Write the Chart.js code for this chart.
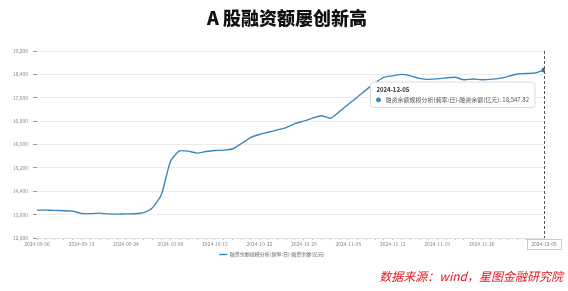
<!DOCTYPE html>
<html>
<head>
<meta charset="utf-8">
<script src="https://cdn.jsdelivr.net/npm/chart.js@4.4.1/dist/chart.umd.min.js"></script>
<style>
  html, body { margin: 0; padding: 0; background: #fff; }
  #wrap { position: relative; width: 568px; height: 291px; overflow: hidden; }
  #marginChart { position: absolute; left: 0; top: 0; }
  #title { position: absolute; left: 0; top: 4px; width: 574px; text-align: center;
           font: 900 18px "Noto Sans CJK SC", sans-serif; color: #111; }
  #source { position: absolute; right: 5px; top: 267px;
            font: italic 12px "Noto Sans CJK SC", sans-serif; color: #e8141c; }
</style>
</head>
<body>
<div id="wrap">
  <canvas id="marginChart" width="568" height="291"></canvas>
  <div id="title">A 股融资额屡创新高</div>
  <div id="source">数据来源：wind，星图金融研究院</div>
</div>
<script>
// trading days, 2024-09-06 .. 2024-12-05
const dates = [
  '2024-09-06', '2024-09-09', '2024-09-10', '2024-09-11', '2024-09-12', '2024-09-13',
  '2024-09-18', '2024-09-19', '2024-09-20', '2024-09-23', '2024-09-24', '2024-09-25',
  '2024-09-26', '2024-09-27', '2024-09-30', '2024-10-08', '2024-10-09', '2024-10-10',
  '2024-10-11', '2024-10-14', '2024-10-15', '2024-10-16', '2024-10-17', '2024-10-18',
  '2024-10-21', '2024-10-22', '2024-10-23', '2024-10-24', '2024-10-25', '2024-10-28',
  '2024-10-29', '2024-10-30', '2024-10-31', '2024-11-01', '2024-11-04', '2024-11-05',
  '2024-11-06', '2024-11-07', '2024-11-08', '2024-11-11', '2024-11-12', '2024-11-13',
  '2024-11-14', '2024-11-15', '2024-11-18', '2024-11-19', '2024-11-20', '2024-11-21',
  '2024-11-22', '2024-11-25', '2024-11-26', '2024-11-27', '2024-11-28', '2024-11-29',
  '2024-12-02', '2024-12-03', '2024-12-04', '2024-12-05'
];

// 融资余额 (亿元)
const balance = [
  13754, 13754, 13745, 13735, 13720, 13640,
  13635, 13650, 13625, 13618, 13625, 13630,
  13670, 13840, 14300, 15420, 15779, 15772,
  15704, 15762, 15796, 15806, 15854, 16034,
  16238, 16341, 16419, 16500, 16580, 16715,
  16800, 16900, 16985, 16900, 17125, 17380,
  17615, 17870, 18110, 18300, 18350, 18400,
  18350, 18265, 18230, 18245, 18280, 18300,
  18215, 18240, 18215, 18230, 18265, 18330,
  18415, 18430, 18450, 18547.82
];

const yTicks = [12800, 13600, 14400, 15200, 16000, 16800, 17600, 18400, 19200];
const seriesName = '融资余额规模分析(频率:日)-融资余额(亿元)';
const lineColor = '#3a87bd';
const lastIdx = balance.length - 1;

Chart.defaults.font.family = '"Noto Sans CJK SC", "Noto Sans", sans-serif';
Chart.defaults.color = '#888';

Chart.Tooltip.positioners.pinned = function (items) {
  if (!items.length) return false;
  const el = items[0].element;
  return { x: el.x - 12, y: el.y + 12 };
};

// dashed crosshair + boxed x label on the active point
const crosshair = {
  id: 'crosshair',
  afterDatasetsDraw(chart) {
    const { ctx, chartArea, scales } = chart;
    const x = scales.x.getPixelForValue(lastIdx);
    ctx.save();
    ctx.strokeStyle = '#555';
    ctx.lineWidth = 1;
    ctx.setLineDash([3, 2]);
    ctx.beginPath();
    ctx.moveTo(Math.round(x) + 0.5, chartArea.top);
    ctx.lineTo(Math.round(x) + 0.5, chartArea.bottom);
    ctx.stroke();
    ctx.setLineDash([]);
    ctx.font = '5px "Noto Sans CJK SC"';
    const txt = dates[lastIdx];
    const w = ctx.measureText(txt).width + 8;
    const bx = Math.min(x - w / 2, chart.width - w - 3);
    const by = chartArea.bottom + 1;
    ctx.fillStyle = '#fff';
    ctx.fillRect(bx, by, w, 10);
    ctx.strokeStyle = '#ccc';
    ctx.strokeRect(Math.round(bx) + 0.5, Math.round(by) + 0.5, Math.round(w), 10);
    ctx.fillStyle = '#777';
    ctx.textAlign = 'center';
    ctx.textBaseline = 'middle';
    ctx.fillText(txt, bx + w / 2, by + 5.5);
    ctx.restore();
  }
};

const chart = new Chart(document.getElementById('marginChart'), {
  type: 'line',
  data: {
    labels: dates,
    datasets: [{
      label: seriesName,
      data: balance,
      borderColor: lineColor,
      backgroundColor: lineColor,
      borderWidth: 1.4,
      tension: 0.2,
      pointRadius: 0,
      pointHoverRadius: 2.5,
      pointHoverBorderWidth: 0,
      pointHoverBackgroundColor: '#2f6f9f'
    }]
  },
  options: {
    responsive: false,
    devicePixelRatio: 1,
    animation: false,
    events: [],
    layout: { padding: { left: 0, right: 24, top: 51, bottom: 24 } },
    scales: {
      x: {
        offset: false,
        border: { color: '#ddd' },
        grid: { drawOnChartArea: false, drawTicks: true, tickLength: 2, tickColor: '#bbb' },
        ticks: {
          autoSkip: false,
          maxRotation: 0,
          padding: 1,
          font: { size: 5 },
          color: '#888',
          callback: (val, index) => (index % 5 === 0 && index <= 50) ? dates[index] : ''
        }
      },
      y: {
        min: 12800,
        max: 19200,
        afterFit: (scale) => { scale.width = 37; },
        afterBuildTicks: (scale) => { scale.ticks = yTicks.map(v => ({ value: v })); },
        border: { display: false },
        grid: { color: '#ececec', tickColor: '#999', tickLength: 4 },
        ticks: {
          padding: 5,
          font: { size: 5 },
          color: '#888',
          callback: (value) => value.toLocaleString('en-US')
        }
      }
    },
    plugins: {
      legend: {
        position: 'bottom',
        labels: {
          usePointStyle: true,
          pointStyle: 'line',
          pointStyleWidth: 8,
          boxHeight: 4,
          padding: 4,
          font: { size: 5 },
          color: '#666'
        }
      },
      tooltip: {
        position: 'pinned',
        xAlign: 'right',
        yAlign: 'top',
        caretSize: 0,
        caretPadding: 0,
        cornerRadius: 3,
        backgroundColor: '#fff',
        borderColor: '#ddd',
        borderWidth: 1,
        titleColor: '#333',
        bodyColor: '#555',
        titleFont: { size: 6, weight: 'bold' },
        bodyFont: { size: 6 },
        titleMarginBottom: 3,
        padding: { x: 6, y: 4 },
        usePointStyle: true,
        boxWidth: 4,
        boxHeight: 4,
        boxPadding: 3,
        callbacks: {
          label: (item) => `${item.dataset.label}: ${item.parsed.y.toLocaleString('en-US', { minimumFractionDigits: 2, maximumFractionDigits: 2 })}`,
          labelColor: () => ({ borderColor: lineColor, backgroundColor: lineColor }),
          labelPointStyle: () => ({ pointStyle: 'circle', rotation: 0 })
        }
      }
    }
  },
  plugins: [crosshair]
});

// pin the hover state on the last trading day
chart.setActiveElements([{ datasetIndex: 0, index: lastIdx }]);
chart.tooltip.setActiveElements([{ datasetIndex: 0, index: lastIdx }], { x: 0, y: 0 });
chart.update();
</script>
</body>
</html>
